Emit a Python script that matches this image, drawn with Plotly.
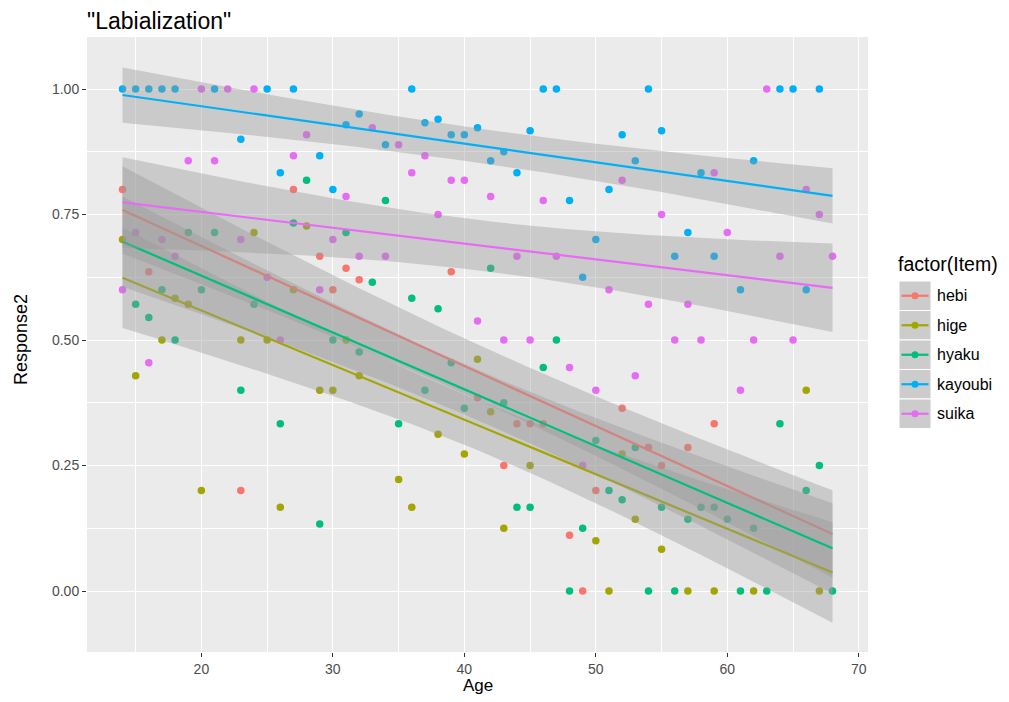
import numpy as np
import plotly.graph_objects as go

# ---------------- data ----------------
items = ["hebi", "hige", "hyaku", "kayoubi", "suika"]
colors = ["#F8766D", "#A3A500", "#00BF7D", "#00B0F6", "#E76BF3"]

hebi_age = [14, 16, 23, 27, 29, 30, 31, 32, 39, 41, 43, 44, 45, 46, 48, 49, 50, 52, 54, 55, 57, 59]
hebi_val = [0.80, 0.636, 0.20, 0.80, 0.667, 0.60, 0.643, 0.62, 0.636, 0.385, 0.25, 0.333, 0.333, 0.333,
            0.111, 0.0, 0.20, 0.364, 0.2857, 0.25, 0.2857, 0.333]

hige_age = [14, 15, 17, 18, 19, 20, 23, 24, 25, 26, 27, 28, 29, 30, 31, 32, 35, 36, 38, 40, 41, 42, 43, 45,
            50, 51, 52, 53, 55, 57, 59, 62, 66, 67]
hige_val = [0.70, 0.4286, 0.50, 0.583, 0.571, 0.20, 0.50, 0.714, 0.50, 0.1667, 0.60, 0.727, 0.40, 0.40,
            0.50, 0.4286, 0.222, 0.1667, 0.3125, 0.273, 0.4615, 0.357, 0.125, 0.25,
            0.10, 0.0, 0.273, 0.143, 0.083, 0.0, 0.0, 0.0, 0.40, 0.0]

hyaku_age = [15, 16, 17, 18, 19, 20, 21, 23, 24, 26, 27, 28, 29, 30, 31, 32, 33, 34, 35, 36, 37, 38, 39, 40,
             42, 43, 44, 45, 46, 47, 48, 49, 50, 51, 52, 53, 54, 55, 56, 57, 58, 59, 60, 61, 62, 63, 64,
             66, 67, 68]
hyaku_val = [0.571, 0.545, 0.60, 0.50, 0.714, 0.60, 0.714, 0.40, 0.571, 0.333, 0.733, 0.818, 0.1333, 0.50,
             0.714, 0.476, 0.615, 0.778, 0.333, 0.583, 0.40, 0.5625, 0.4545, 0.364,
             0.643, 0.375, 0.1667, 0.1667, 0.445, 0.50, 0.0, 0.125, 0.30, 0.20, 0.182, 0.2857, 0.0, 0.1667,
             0.0, 0.143, 0.1667, 0.1667, 0.143, 0.0, 0.125, 0.0, 0.333, 0.20, 0.25, 0.0]

kayoubi_age = [14, 15, 16, 17, 18, 21, 25, 27, 36, 46, 47, 54, 64, 65, 67,
               23, 26, 29, 30, 31, 32, 34, 37, 38, 39, 40, 41, 42, 43, 44, 45, 48, 49, 50, 51, 52, 53,
               55, 56, 57, 58, 59, 61, 62, 66]
kayoubi_val = [1.0] * 15 + [0.90, 0.833, 0.867, 0.80, 0.929, 0.95, 0.889, 0.933, 0.94, 0.909, 0.909, 0.923,
                            0.857, 0.875, 0.833, 0.917, 0.778, 0.625, 0.70, 0.80, 0.909, 0.857,
                            0.917, 0.667, 0.714, 0.833, 0.667, 0.60, 0.857, 0.60]

suika_age = [14, 15, 16, 17, 18, 19, 20, 21, 22, 23, 24, 25, 26, 27, 28, 29, 30, 31, 32, 33, 34, 35, 36, 37,
             38, 39, 40, 41, 42, 43, 44, 45, 46, 47, 48, 49, 50, 51, 52, 53, 54, 55, 56, 57, 58, 59, 60,
             61, 62, 63, 64, 65, 66, 67, 68]
suika_val = [0.60, 0.714, 0.4545, 0.70, 0.667, 0.857, 1.0, 0.857, 1.0, 0.70, 1.0, 0.625, 0.50, 0.867, 0.909,
             0.60, 0.70, 0.786, 0.667, 0.923, 0.667, 0.889, 0.833, 0.867, 0.75, 0.818, 0.818, 0.538,
             0.786, 0.50, 0.667, 0.50, 0.778, 0.667, 0.445, 0.25, 0.40, 0.60, 0.818, 0.4286, 0.571, 0.75,
             0.50, 0.571, 0.50, 0.833, 0.714, 0.40, 0.50, 1.0, 0.667, 0.50, 0.80, 0.75, 0.667]

ages_by_item = [hebi_age, hige_age, hyaku_age, kayoubi_age, suika_age]
vals_by_item = [hebi_val, hige_val, hyaku_val, kayoubi_val, suika_val]

# fitted line (lm) read at the ends of the age range
fit_ages = [14, 68]
fit_start = [0.759, 0.624, 0.696, 0.988, 0.774]
fit_end = [0.1135, 0.037, 0.085, 0.787, 0.604]
# confidence band half-widths read at age 14, centre (41) and 68
band_hw_start = [0.087, 0.100, 0.090, 0.055, 0.090]
band_hw_mid = [0.055, 0.050, 0.050, 0.034, 0.050]
band_hw_end = [0.087, 0.100, 0.090, 0.055, 0.088]
band_centre_age = 41

x_ticks = [20, 30, 40, 50, 60, 70]
y_ticks = [0.0, 0.25, 0.50, 0.75, 1.00]
y_ticklabels = ["0.00", "0.25", "0.50", "0.75", "1.00"]

# ---------------- figure ----------------
fig = go.Figure()

# points layer
for name, col, a, v in zip(items, colors, ages_by_item, vals_by_item):
    fig.add_trace(go.Scatter(x=a, y=v, mode="markers", name=name,
                             marker=dict(color=col, size=7.5, line=dict(width=0)),
                             showlegend=False, hoverinfo="x+y+name"))

# smooth layer (ribbon + line per group)
grid = np.linspace(fit_ages[0], fit_ages[1], 80)
for i, (name, col) in enumerate(zip(items, colors)):
    slope = (fit_end[i] - fit_start[i]) / (fit_ages[1] - fit_ages[0])
    yhat = fit_start[i] + slope * (grid - fit_ages[0])
    # standard lm confidence-band shape: sqrt(a + b*(x - xc)^2)
    left_half = grid <= band_centre_age
    e = np.where(left_half, band_hw_start[i], band_hw_end[i])
    dist = np.where(left_half, band_centre_age - fit_ages[0], fit_ages[1] - band_centre_age)
    hw = np.sqrt(band_hw_mid[i] ** 2 + (e ** 2 - band_hw_mid[i] ** 2) * ((grid - band_centre_age) / dist) ** 2)
    xs = np.concatenate([grid, grid[::-1]])
    ys = np.concatenate([yhat + hw, (yhat - hw)[::-1]])
    fig.add_trace(go.Scatter(x=xs, y=ys, mode="lines", fill="toself",
                             fillcolor="rgba(153,153,153,0.4)", line=dict(width=0),
                             showlegend=False, hoverinfo="skip"))
    fig.add_trace(go.Scatter(x=grid, y=yhat, mode="lines", line=dict(color=col, width=2.2),
                             showlegend=False, hoverinfo="skip"))

# ---------------- layout ----------------
# the page body adds an 8px margin, so work in page pixels shifted by OFF
OFF = 8
W, H = 1009 - 2 * OFF, 702 - 2 * OFF
L, T = 87 - OFF, 37 - OFF
pw, ph = 868 - 87, 652 - 37
R, B = W - L - pw, H - T - ph

fig.update_layout(
    width=W, height=H,
    margin=dict(l=L, r=R, t=T, b=B, pad=0, autoexpand=False),
    paper_bgcolor="white", plot_bgcolor="#EBEBEB",
    font=dict(family="Liberation Sans, Arial, sans-serif"),
    showlegend=False,
    xaxis=dict(range=[11.3, 70.7], tickvals=x_ticks, ticktext=[str(t) for t in x_ticks],
               showgrid=True, gridcolor="white", gridwidth=1.1, zeroline=False,
               ticks="outside", ticklen=4, tickcolor="#333333", tickwidth=1,
               tickfont=dict(size=14, color="#4D4D4D"),
               minor=dict(tickvals=[15, 25, 35, 45, 55, 65], showgrid=True, gridcolor="white",
                          gridwidth=0.5, ticks=""),
               showline=False, automargin=False),
    yaxis=dict(range=[-0.1215, 1.1036], tickvals=y_ticks, ticktext=y_ticklabels,
               showgrid=True, gridcolor="white", gridwidth=1.1, zeroline=False,
               ticks="outside", ticklen=4, tickcolor="#333333", tickwidth=1,
               tickfont=dict(size=14, color="#4D4D4D"),
               minor=dict(tickvals=[0.125, 0.375, 0.625, 0.875], showgrid=True, gridcolor="white",
                          gridwidth=0.5, ticks=""),
               showline=False, automargin=False),
    title=dict(text='"Labialization"', x=L / W, xanchor="left", y=1 - (21 - OFF) / H, yanchor="middle",
               font=dict(size=23, color="black")),
)


def px2paper(xp, yp):
    # xp, yp in reference-image pixels
    return (xp - 87) / pw, (652 - yp) / ph


# axis titles
ax_x, ax_y = px2paper(478, 685)
fig.add_annotation(x=ax_x, y=ax_y, xref="paper", yref="paper", text="Age", showarrow=False,
                   xanchor="center", yanchor="middle", font=dict(size=17, color="black"))
ay_x, ay_y = px2paper(21, 340)
fig.add_annotation(x=ay_x, y=ay_y, xref="paper", yref="paper", text="Response2", showarrow=False,
                   textangle=-90, xanchor="center", yanchor="middle", font=dict(size=18, color="black"))

# ---------------- manual legend (ggplot style) ----------------
kx0, kx1 = 899, 931
ky0 = 281
kh = 29.5
tx, ty = px2paper(896, 264)
fig.add_annotation(x=tx, y=ty, xref="paper", yref="paper", text="factor(Item)", showarrow=False,
                   xanchor="left", yanchor="middle", font=dict(size=19.5, color="black"))
for i, (name, col) in enumerate(zip(items, colors)):
    top = ky0 + i * kh
    bot = top + kh
    x0p, y0p = px2paper(kx0, bot)
    x1p, y1p = px2paper(kx1, top)
    fig.add_shape(type="rect", xref="paper", yref="paper", x0=x0p, x1=x1p, y0=y0p, y1=y1p,
                  fillcolor="#CCCCCC", line=dict(color="white", width=1), layer="above")
    cx, cy = px2paper((kx0 + kx1) / 2, (top + bot) / 2)
    lx0, _ = px2paper(kx0 + 2.5, 0)
    lx1, _ = px2paper(kx1 - 2.5, 0)
    fig.add_shape(type="line", xref="paper", yref="paper", x0=lx0, x1=lx1, y0=cy, y1=cy,
                  line=dict(color=col, width=2.2), layer="above")
    fig.add_shape(type="circle", xref="paper", yref="paper", xsizemode="pixel", ysizemode="pixel",
                  xanchor=cx, yanchor=cy, x0=-3.5, x1=3.5, y0=-3.5, y1=3.5,
                  fillcolor=col, line=dict(width=0), layer="above")
    lbx, lby = px2paper(935, (top + bot) / 2)
    fig.add_annotation(x=lbx, y=lby, xref="paper", yref="paper", text=name, showarrow=False,
                       xanchor="left", yanchor="middle", font=dict(size=16, color="black"))

fig.write_html("out.html")
